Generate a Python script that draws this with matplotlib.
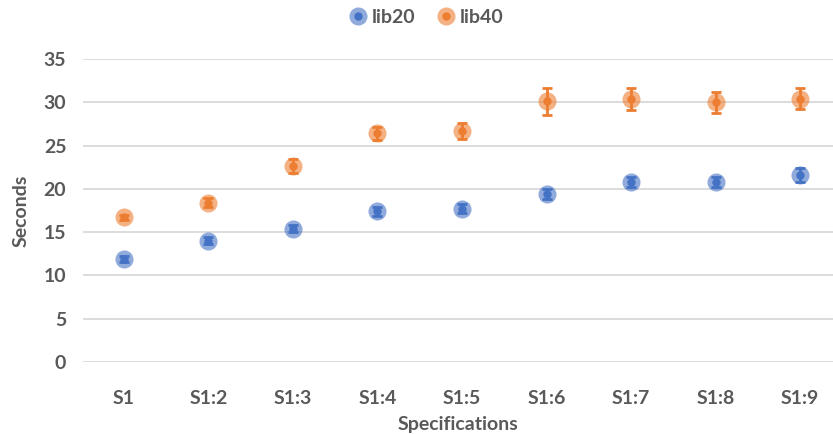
import matplotlib
matplotlib.use("Agg")
import matplotlib.pyplot as plt
from matplotlib.lines import Line2D

categories = ["S1", "S1:2", "S1:3", "S1:4", "S1:5", "S1:6", "S1:7", "S1:8", "S1:9"]
lib20 = [11.9, 14.0, 15.4, 17.4, 17.7, 19.4, 20.8, 20.8, 21.6]
lib20_err = [0.3, 0.4, 0.4, 0.5, 0.5, 0.6, 0.6, 0.6, 0.8]
lib40 = [16.7, 18.4, 22.6, 26.4, 26.7, 30.1, 30.4, 30.0, 30.4]
lib40_err = [0.3, 0.5, 0.8, 0.8, 0.9, 1.6, 1.3, 1.2, 1.2]

plt.rcParams['font.family'] = ['Lato', 'DejaVu Sans']
gray = "#595959"
blue = "#4472C4"
orange = "#ED7D31"
fs = 14

fig = plt.figure(figsize=(8.33, 4.34), dpi=100)
ax = fig.add_axes([0.0996, 0.166, 0.9004, 0.698])
x = list(range(len(categories)))

for vals, errs, col, name in [(lib20, lib20_err, blue, "lib20"), (lib40, lib40_err, orange, "lib40")]:
    ax.plot(x, vals, 'o', ms=13, color=col, alpha=0.6, mec='none', zorder=3)
    ax.errorbar(x, vals, yerr=errs, fmt='o', ms=5, color=col, ecolor=col,
                elinewidth=2, capsize=3.5, capthick=2, zorder=4)

ax.set_ylim(0, 35)
ax.set_yticks(range(0, 36, 5))
ax.set_xlim(-0.485, 8.39)
ax.set_xticks(x)
ax.set_xticklabels(categories)
ax.grid(axis='y', color='#D9D9D9', lw=1.3)
ax.set_axisbelow(True)
for s in ax.spines.values():
    s.set_visible(False)
ax.tick_params(length=0, labelsize=fs, labelcolor=gray)
ax.tick_params(axis='y', pad=12)
ax.tick_params(axis='x', pad=20)
for lab in ax.get_xticklabels() + ax.get_yticklabels():
    lab.set_fontweight('bold')
ax.set_xlabel("Specifications", fontsize=fs, fontweight='bold', color=gray, labelpad=7)
ax.set_ylabel("Seconds", fontsize=fs, fontweight='bold', color=gray, labelpad=10)

handles = []
for col, name in [(blue, "lib20"), (orange, "lib40")]:
    handles.append((Line2D([], [], marker='o', ls='none', ms=13, color=col, alpha=0.6, mec='none'),
                    Line2D([], [], marker='o', ls='none', ms=5, color=col)))
leg = fig.legend(handles, ["lib20", "lib40"], loc='center', bbox_to_anchor=(0.51, 0.96), ncol=2,
                 frameon=False, handletextpad=0.1, columnspacing=1.0, handlelength=1.2,
                 prop={'weight': 'bold', 'size': fs})
for t in leg.get_texts():
    t.set_color(gray)

fig.savefig("out.png", dpi=100)
